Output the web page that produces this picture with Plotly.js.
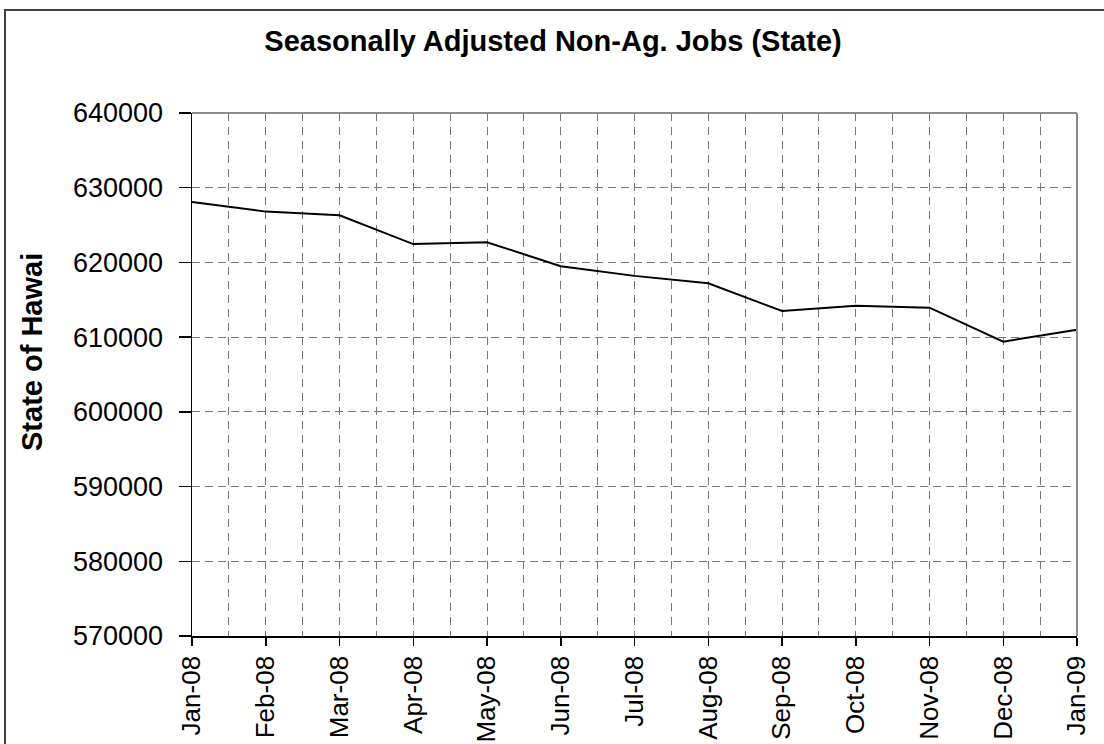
<!DOCTYPE html>
<html>
<head>
<meta charset="utf-8">
<script src="https://cdn.plot.ly/plotly-3.0.1.min.js"></script>
<style>
  html, body { margin: 0; padding: 0; background: #ffffff; }
  #chart { width: 1104px; height: 744px; }
</style>
</head>
<body>
<div id="chart"></div>
<script>
// ---- Data ----
const categories = ["Jan-08", "Feb-08", "Mar-08", "Apr-08", "May-08", "Jun-08",
                    "Jul-08", "Aug-08", "Sep-08", "Oct-08", "Nov-08", "Dec-08", "Jan-09"];
const jobs = [628100, 626800, 626300, 622450, 622700, 619500,
              618200, 617200, 613500, 614200, 613950, 609400, 611000];
const yTickValues = [570000, 580000, 590000, 600000, 610000, 620000, 630000, 640000];
const chartTitle = "Seasonally Adjusted Non-Ag. Jobs (State)";
const yTitle = "State of Hawai";

const xIndex = categories.map((_, i) => i);

const FONT = '"Liberation Sans", Arial, sans-serif';
const GRID = '#777777';

const trace = {
  x: xIndex,
  y: jobs,
  type: 'scatter',
  mode: 'lines',
  line: { color: '#000000', width: 2 },
  hoverinfo: 'skip',
  showlegend: false
};

const layout = {
  width: 1104,
  height: 744,
  margin: { l: 192, r: 27, t: 113, b: 108 },
  paper_bgcolor: '#ffffff',
  plot_bgcolor: '#ffffff',
  font: { family: FONT, color: '#000000' },
  title: {
    text: chartTitle,
    font: { family: FONT, size: 29, color: '#000000', weight: 'bold' },
    x: 553 / 1104,
    xanchor: 'center',
    xref: 'container',
    y: 1 - 41 / 744,
    yanchor: 'middle',
    yref: 'container'
  },
  xaxis: {
    range: [0, categories.length - 1],
    tickmode: 'array',
    tickvals: xIndex,
    ticktext: categories,
    tickangle: -90,
    ticks: 'outside',
    ticklen: 8,
    tickcolor: '#000000',
    tickwidth: 1.5,
    tickfont: { family: FONT, size: 26, color: '#000000' },
    showline: true,
    linecolor: '#000000',
    linewidth: 1.5,
    showgrid: true,
    gridcolor: GRID,
    gridwidth: 1,
    griddash: '8px,6px',
    minor: {
      tick0: 0.5,
      dtick: 1,
      showgrid: true,
      gridcolor: GRID,
      gridwidth: 1,
      griddash: '8px,6px',
      ticks: ''
    },
    zeroline: false,
    fixedrange: true
  },
  yaxis: {
    range: [570000, 640000],
    tickmode: 'array',
    tickvals: yTickValues,
    ticktext: yTickValues.map(v => String(v)),
    ticks: 'outside',
    ticklen: 12,
    tickcolor: '#000000',
    tickwidth: 1.5,
    ticklabelstandoff: 10,
    tickfont: { family: FONT, size: 27, color: '#000000' },
    showline: true,
    linecolor: '#000000',
    linewidth: 1.5,
    showgrid: true,
    gridcolor: GRID,
    gridwidth: 1,
    griddash: '8px,5px',
    zeroline: false,
    fixedrange: true
  },
  annotations: [
    {
      text: '<b>' + yTitle + '</b>',
      xref: 'paper', yref: 'paper',
      x: (32 - 192) / 885, y: (636 - 352) / 523,
      xanchor: 'center', yanchor: 'middle',
      textangle: -90,
      showarrow: false,
      font: { family: FONT, size: 29, color: '#000000' }
    }
  ],
  shapes: [
    // top border of plot area
    { type: 'line', xref: 'paper', yref: 'paper', x0: 0, x1: 1, y0: 1, y1: 1,
      line: { color: '#8c8c8c', width: 2 }, layer: 'above' },
    // right border of plot area
    { type: 'line', xref: 'paper', yref: 'paper', x0: 1, x1: 1, y0: 0, y1: 1,
      line: { color: '#8c8c8c', width: 2 }, layer: 'above' },
    // outer chart frame
    { type: 'rect', xref: 'paper', yref: 'paper',
      x0: (5 - 192) / 885, x1: 1.06, y0: -0.3, y1: 1 + (113 - 10) / 523,
      line: { color: '#404040', width: 2 }, fillcolor: 'rgba(0,0,0,0)', layer: 'above' }
  ]
};

Plotly.newPlot('chart', [trace], layout, { displayModeBar: false, staticPlot: true });
</script>
</body>
</html>
